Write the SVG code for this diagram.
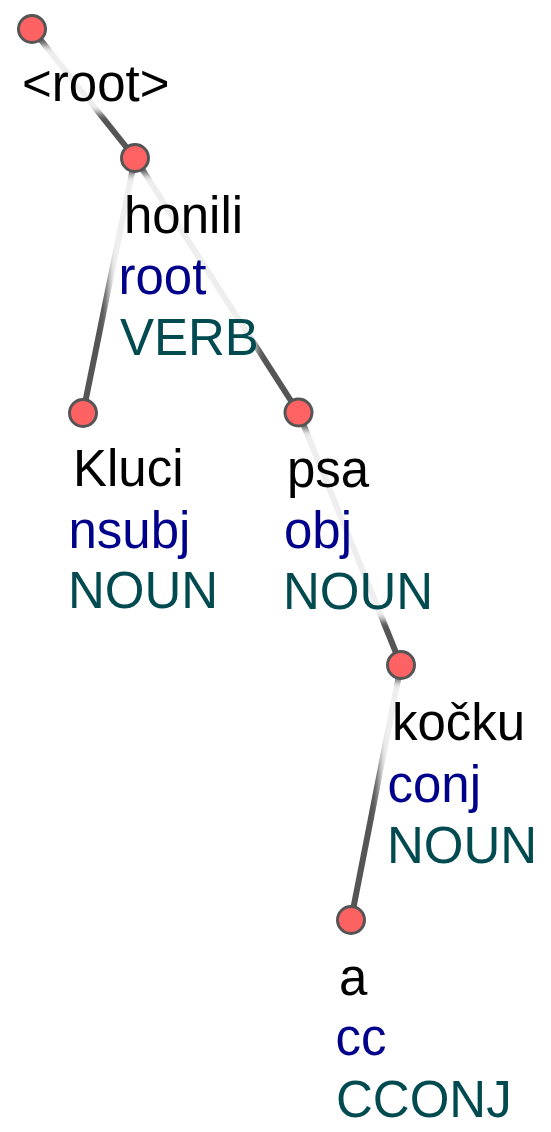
<svg xmlns="http://www.w3.org/2000/svg" width="551" height="1132" viewBox="0 0 551 1132">
  <style>
    .edge { stroke: #555555; stroke-width: 6; fill: none; }
    .bg { fill: #ffffff; fill-opacity: 0.9; filter: url(#soft); }
    .dot { fill: #ff6262; stroke: #555555; stroke-width: 3; }
    text { font-family: "Liberation Sans", Arial, sans-serif; font-size: 51px; }
    .form { fill: #000000; }
    .rel { fill: #00008b; }
    .pos { fill: #004a50; }
  </style>
  <defs>
    <filter id="soft" x="-20%" y="-20%" width="140%" height="140%">
      <feGaussianBlur stdDeviation="3.5"/>
    </filter>
  </defs>
  <rect width="551" height="1132" fill="#ffffff"/>
  <g id="edges">
    <line class="edge" x1="32" y1="29" x2="135" y2="158"/>
    <line class="edge" x1="135" y1="158" x2="83" y2="413"/>
    <line class="edge" x1="135" y1="158" x2="298.5" y2="412.5"/>
    <line class="edge" x1="298.5" y1="412.5" x2="401" y2="665"/>
    <line class="edge" x1="401" y1="665" x2="351" y2="920"/>
  </g>
  <g id="node-root">
    <rect class="bg" x="17" y="45" width="153" height="68"/>
    <circle class="dot" cx="32" cy="29" r="13.5"/>
    <text class="form" x="22" y="101">&lt;root&gt;</text>
  </g>
  <g id="node-honili">
    <rect class="bg" x="108" y="174" width="148" height="191"/>
    <circle class="dot" cx="135" cy="158" r="13.5"/>
    <text class="form" x="124" y="233">honili</text>
    <text class="rel" x="118.5" y="294">root</text>
    <text class="pos" x="120" y="355">VERB</text>
  </g>
  <g id="node-kluci">
    <rect class="bg" x="61" y="429" width="158" height="191"/>
    <circle class="dot" cx="83" cy="413" r="13.5"/>
    <text class="form" x="73" y="486">Kluci</text>
    <text class="rel" x="68.5" y="548">nsubj</text>
    <text class="pos" x="68" y="608">NOUN</text>
  </g>
  <g id="node-psa">
    <rect class="bg" x="276" y="429" width="157" height="191"/>
    <circle class="dot" cx="298.5" cy="412.5" r="13.5"/>
    <text class="form" x="287" y="487">psa</text>
    <text class="rel" x="284" y="548">obj</text>
    <text class="pos" x="283" y="609">NOUN</text>
  </g>
  <g id="node-kocku">
    <rect class="bg" x="379" y="681" width="158" height="191"/>
    <circle class="dot" cx="401" cy="665" r="13.5"/>
    <text class="form" x="392" y="740">kočku</text>
    <text class="rel" x="387.5" y="802">conj</text>
    <text class="pos" x="387" y="863">NOUN</text>
  </g>
  <g id="node-a">
    <rect class="bg" x="329" y="936" width="186" height="191"/>
    <circle class="dot" cx="351" cy="920" r="13.5"/>
    <text class="form" x="339" y="995">a</text>
    <text class="rel" x="335.5" y="1055">cc</text>
    <text class="pos" x="336" y="1117">CCONJ</text>
  </g>
</svg>
